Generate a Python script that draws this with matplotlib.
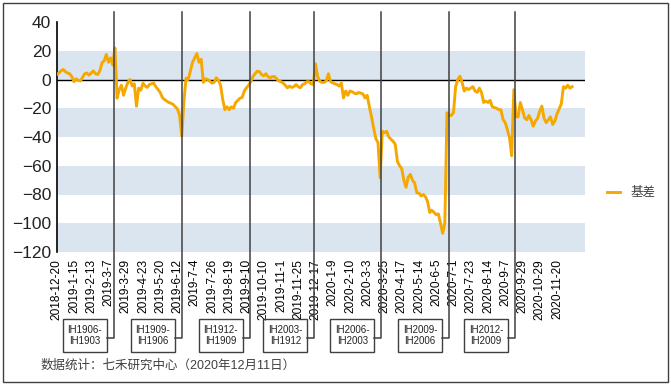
import numpy as np
import matplotlib
matplotlib.use("Agg")
import matplotlib.pyplot as plt
from matplotlib.lines import Line2D
from matplotlib.patches import Rectangle

plt.rcParams['font.family'] = ['Liberation Sans', 'Noto Sans CJK SC', 'DejaVu Sans']

# basis (IH), one value every 2 trading days from 2018-12-20
basis = [
    3.5, 4.5, 6, 7, 5.5, 4.5, 4, 2,
    -1.5, 0.5, -0.5, -1, 1.5, 4, 4.5, 3,
    4.5, 6, 4, 3.5, 6, 11.6, 13, 17.4,
    12, 15, 10, 22, -13, -7, -4, -11,
    -6, -2, 0, -4.5, -3, -18.6, -6, -7.5,
    -2.5, -4.5, -5.5, -3.5, -3, -2.5, -5, -7,
    -9, -12.5, -14, -15, -16, -16.5, -17.4, -19,
    -20.5, -25, -39.4, -15, 1, 0, 6, 12,
    15, 18, 12, 14, -2, 0.5, 0, -1.2,
    -2.5, -2, 1.2, -0.5, -4, -14, -21, -19,
    -21, -19, -20, -16, -14.5, -13, -12.5, -8,
    -5.8, -4, -1.5, 2, 4, 5.8, 5.5, 3.5,
    2.5, 4, 2, 1.2, 2, 2, 0.5, -1,
    -1.5, -2.5, -4, -5.8, -4.6, -5.5, -5, -3.5,
    -5, -5.8, -3.5, -3, -1.5, -1.5, -3, -3.5,
    11, 2, -1.2, -2, -2, -1, 4, -1.5,
    -2.3, -3, -3.5, -4.6, -2.5, -12.8, -8, -11,
    -8, -8.5, -9.5, -10, -9, -9.5, -10, -12.8,
    -11, -19, -26, -34, -41, -44, -68.4, -36,
    -37, -36, -40, -41.5, -43, -45, -57, -60,
    -62, -70, -75, -68, -66, -70, -72, -78.8,
    -79, -81, -80, -81.5, -85, -92.5, -91, -92.5,
    -94, -93.5, -100, -107, -100, -23.2, -25, -25,
    -23, -5, 0, 2.3, -2, -8, -6, -7,
    -6, -5, -8, -9, -6, -9, -16, -15,
    -16, -14.5, -19, -19.5, -20, -21, -21, -27.8,
    -30, -34.8, -40.6, -53, -7, -26, -26, -16,
    -21, -26.7, -28, -25, -28, -32.5, -29, -27,
    -22, -18.5, -27, -30, -28, -26, -31.3, -29,
    -24, -20.5, -17, -5, -6, -4, -6, -5,
]

tick_labels = [
    "2018-12-20", "2019-1-15", "2019-2-13", "2019-3-7", "2019-3-29", "2019-4-23",
    "2019-5-20", "2019-6-12", "2019-7-4", "2019-7-26", "2019-8-19", "2019-9-10",
    "2019-10-10", "2019-11-1", "2019-11-25", "2019-12-17", "2020-1-9", "2020-2-10",
    "2020-3-3", "2020-3-25", "2020-4-17", "2020-5-14", "2020-6-5", "2020-7-1",
    "2020-7-23", "2020-8-14", "2020-9-7", "2020-9-29", "2020-10-29", "2020-11-20",
]

# contract rolls: trading-day index and label
roll_days = [53, 116, 179, 239, 301, 364, 425]
roll_labels = ["IH1906-\nIH1903", "IH1909-\nIH1906", "IH1912-\nIH1909", "IH2003-\nIH1912",
               "IH2006-\nIH2003", "IH2009-\nIH2006", "IH2012-\nIH2009"]

W, H = 671, 384
fig = plt.figure(figsize=(W / 100, H / 100), dpi=100)
ax = fig.add_axes([56.7 / W, 132 / H, (585 - 56.7) / W, 230 / H])

x = np.arange(len(basis)) * 2
band = "#dbe5f0"
for lo in [0, -40, -80, -120]:
    ax.axhspan(lo, lo + 20, color=band, lw=0, zorder=0)
ax.axhline(0, color="black", lw=1, zorder=2)
line, = ax.plot(x, basis, color="#f5a800", lw=2.1, zorder=3, label="基差")

ax.set_xlim(0, 490)
ax.set_ylim(-120, 40)
ax.set_yticks(range(-120, 41, 20))
ax.tick_params(axis="y", length=0, pad=4, labelsize=12.5, labelcolor="#222222")
ax.set_xticks(np.arange(len(tick_labels)) * 16)
ax.set_xticklabels(tick_labels, rotation=90, fontsize=8.6)
ax.tick_params(axis="x", length=0, pad=5)
for s in ["top", "right", "bottom"]:
    ax.spines[s].set_visible(False)
ax.spines["left"].set_color("black")
ax.spines["left"].set_linewidth(1.2)

# callouts for contract rolls
fig.canvas.draw()
for d, lab in zip(roll_days, roll_labels):
    px = ax.transData.transform((d, 0))[0]
    top, conn = H - 12, H - 338
    fig.add_artist(Line2D([px / W, px / W, (px - 7) / W], [top / H, conn / H, conn / H],
                          transform=fig.transFigure, color="#404040", lw=1.1, zorder=5))
    bx, by, bw, bh = px - 7 - 44, H - 352, 44, 33
    fig.add_artist(Rectangle((bx / W, by / H), bw / W, bh / H, transform=fig.transFigure,
                             fill=False, edgecolor="#404040", lw=1.0))
    fig.text((bx + bw / 2) / W, (by + bh / 2) / H, lab, ha="center", va="center",
             fontsize=7, linespacing=1.1, color="#222222")

# legend
ax.legend(handles=[line], loc="center left", bbox_to_anchor=(607 / W, 191 / H),
          bbox_transform=fig.transFigure, frameon=False, fontsize=9, handlelength=1.05,
          handletextpad=0.8, borderpad=0, borderaxespad=0, labelcolor="#404040")

fig.text(41 / W, (H - 366) / H, "数据统计：七禾研究中心（2020年12月11日）", fontsize=9,
         color="#404040", va="center", ha="left")

fig.add_artist(Rectangle((2.5 / W, 2.5 / H), (668 - 2.5) / W, (381 - 2.5) / H,
                         transform=fig.transFigure, fill=False, edgecolor="#404040", lw=1))

fig.savefig("out.png", dpi=100)
